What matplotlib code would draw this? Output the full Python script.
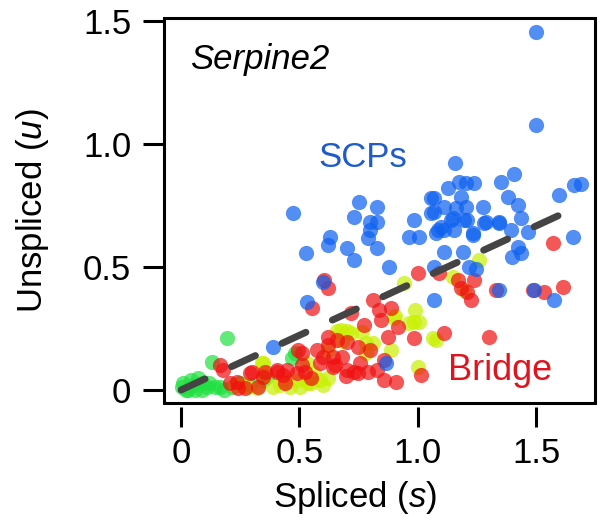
import matplotlib
matplotlib.use("Agg")
import matplotlib.pyplot as plt
from matplotlib.patches import Rectangle

plt.rcParams['font.family'] = ['Liberation Sans', 'DejaVu Sans']
plt.rcParams['mathtext.fontset'] = 'custom'
plt.rcParams['mathtext.rm'] = 'Liberation Sans'
plt.rcParams['mathtext.it'] = 'Liberation Sans:italic'

# SCPs (blue)
scp_s = [1.50, 1.50, 0.475, 1.157, 1.407, 1.352, 1.597, 1.661, 1.69, 1.174,
         1.203, 1.237, 1.127, 1.055, 1.182, 0.75, 0.83, 1.275, 1.381, 1.424,
         1.11, 1.161, 1.203, 0.729, 0.80, 0.83, 0.80, 0.79, 0.83, 0.63,
         0.62, 0.53, 0.70, 0.73, 0.983, 1.055, 1.097, 1.14, 1.195, 0.962,
         1.004, 1.076, 1.11, 1.153, 1.233, 1.288, 1.343, 1.394, 1.466, 1.657,
         1.424, 1.436, 1.436, 1.28, 1.343, 1.085, 1.233, 1.11, 1.19, 1.216,
         1.245, 0.877, 1.068, 1.40, 0.534, 0.60, 1.068, 1.343, 1.49, 1.576,
         0.39, 0.864, 1.068, 1.21, 1.148, 1.068]
scp_u = [1.455, 1.077, 0.72, 0.923, 0.878, 0.846, 0.793, 0.833, 0.837, 0.846,
         0.841, 0.841, 0.82, 0.78, 0.785, 0.765, 0.745, 0.745, 0.785, 0.752,
         0.745, 0.74, 0.745, 0.704, 0.683, 0.683, 0.65, 0.618, 0.577, 0.622,
         0.59, 0.557, 0.577, 0.528, 0.691, 0.72, 0.663, 0.691, 0.691, 0.622,
         0.622, 0.638, 0.65, 0.65, 0.638, 0.683, 0.683, 0.65, 0.642, 0.622,
         0.581, 0.557, 0.70, 0.679, 0.679, 0.65, 0.63, 0.561, 0.561, 0.50,
         0.49, 0.50, 0.50, 0.54, 0.358, 0.44, 0.366, 0.407, 0.407, 0.366,
         0.175, 0.11, 0.724, 0.691, 0.70, 0.78]

# Bridge (red)
bridge_s = [1.572, 1.614, 1.487, 1.534, 1.33, 1.0, 1.089, 1.17, 1.237, 1.182,
            1.225, 1.208, 0.602, 0.623, 0.555, 0.809, 0.835, 0.886, 0.716, 0.771,
            0.843, 0.915, 0.873, 0.983, 1.11, 1.30, 1.013, 0.907, 0.856, 0.788,
            0.746, 0.703, 0.64, 0.589, 0.64, 0.682, 0.576, 0.661, 0.619, 0.703,
            0.513, 0.492, 0.449, 0.407, 0.347, 0.292, 0.237, 0.178, 0.165, 0.208,
            0.746, 0.80, 0.856, 0.83, 0.758, 0.729, 0.695, 0.525, 0.62, 0.60,
            0.65, 0.30, 0.356, 0.407, 0.432, 0.496, 0.513, 0.271, 0.326, 0.24,
            0.44, 0.55]
bridge_u = [0.597, 0.419, 0.407, 0.398, 0.407, 0.476, 0.476, 0.447, 0.447, 0.415,
            0.366, 0.40, 0.447, 0.415, 0.333, 0.366, 0.325, 0.333, 0.313, 0.264,
            0.285, 0.256, 0.215, 0.211, 0.232, 0.215, 0.061, 0.033, 0.041, 0.073,
            0.069, 0.081, 0.093, 0.11, 0.134, 0.134, 0.163, 0.203, 0.215, 0.195,
            0.15, 0.069, 0.081, 0.081, 0.053, 0.069, 0.033, 0.081, 0.102, 0.03,
            0.175, 0.163, 0.122, 0.081, 0.11, 0.073, 0.057, 0.073, 0.183, 0.134,
            0.10, 0.073, 0.073, 0.073, 0.061, 0.163, 0.10, 0.008, 0.012, 0.008,
            0.03, 0.05]

# intermediate cells (yellow-green)
mid_s = [1.258, 1.148, 1.195, 0.94, 0.99, 0.983, 0.898, 0.886, 1.076, 1.064,
         1.0, 0.674, 0.716, 0.78, 0.62, 0.534, 0.547, 0.462, 0.39, 0.347,
         0.28, 0.905, 0.962, 1.004, 0.661, 0.763, 0.78, 0.809, 0.589, 0.504,
         0.538, 0.619, 0.343, 0.356, 0.322, 0.441, 0.496, 0.258, 0.229, 0.56,
         0.70, 0.68, 0.42, 0.60]
mid_u = [0.528, 0.459, 0.407, 0.435, 0.325, 0.276, 0.293, 0.163, 0.203, 0.21,
         0.093, 0.244, 0.232, 0.19, 0.163, 0.11, 0.028, 0.012, 0.012, 0.11,
         0.012, 0.30, 0.272, 0.276, 0.24, 0.236, 0.15, 0.19, 0.041, 0.012,
         0.028, 0.049, 0.11, 0.061, 0.008, 0.041, 0.041, 0.02, 0.02, 0.07,
         0.24, 0.20, 0.02, 0.02]

# early cells (green)
early_s = [0.195, 0.131, 0.004, 0.03, 0.072, 0.089, 0.11, 0.144, 0.165, 0.216,
           0.01, 0.05, 0.02, 0.06, 0.12, 0.18, 0.364, 0.347, 0.47, 0.483,
           0.25, 0.29, 0.09, 0.04]
early_u = [0.211, 0.114, 0.012, 0.0, 0.049, 0.028, 0.012, 0.012, 0.012, 0.012,
           0.03, 0.02, 0.0, 0.0, 0.03, 0.0, 0.053, 0.041, 0.13, 0.15,
           0.03, 0.02, 0.0, 0.04]

# steady-state fit line
fit_s = [0.0, 1.62]
fit_u = [0.0, 0.72]

fig = plt.figure(figsize=(6.02, 5.26), dpi=100)
ax = fig.add_axes([164 / 602, 123 / 526, 431 / 602, 385 / 526])

dot = 120
ax.scatter(early_s, early_u, s=dot, color='#20e040', alpha=0.7, linewidths=0)
ax.scatter(mid_s, mid_u, s=dot, color='#c8f000', alpha=0.7, linewidths=0)
ax.scatter(bridge_s, bridge_u, s=dot, color='#f01010', alpha=0.7, linewidths=0)
ax.scatter(scp_s, scp_u, s=dot, color='#0f62f0', alpha=0.72, linewidths=0)

ax.plot(fit_s, fit_u, color='#444444', lw=5, dashes=(3.8, 4.2),
        solid_capstyle='round', dash_capstyle='round')

ax.set_xlim(-0.072, 1.749)
ax.set_ylim(-0.053, 1.512)

ax.set_xticks([0, 0.5, 1.0, 1.5])
ax.set_xticklabels(['0', '0.5', '1.0', '1.5'])
ax.set_yticks([0, 0.5, 1.0, 1.5])
ax.set_yticklabels(['0', '0.5', '1.0', '1.5'])

# box drawn separately, x ticks sit a bit below it
for side in ['top', 'right', 'left', 'bottom']:
    ax.spines[side].set_visible(False)
ax.spines['bottom'].set_position(('outward', 3))
ax.add_patch(Rectangle((0, 0), 1, 1, transform=ax.transAxes, fill=False,
                       lw=2.2, edgecolor='black', clip_on=False, zorder=5))

ax.tick_params(axis='x', length=14.5, width=2.2, pad=7, labelsize=25)
ax.tick_params(axis='y', length=15, width=2.2, pad=8.5, labelsize=25)

ax.set_xlabel('Spliced ($\\it{s}$)', fontsize=25)
ax.set_ylabel('Unspliced ($\\it{u}$)', fontsize=25)
ax.xaxis.set_label_coords((355 - 164) / 431, -0.197)
ax.yaxis.set_label_coords(-0.262, 0.5)

ax.text(0.036, 1.305, 'Serpine2', fontsize=25, style='italic')
ax.text(0.579, 0.906, 'SCPs', fontsize=25, color='#1f5cc9')
ax.text(1.128, 0.041, 'Bridge', fontsize=26, color='#e0141e')

fig.savefig('out.png', dpi=100)
